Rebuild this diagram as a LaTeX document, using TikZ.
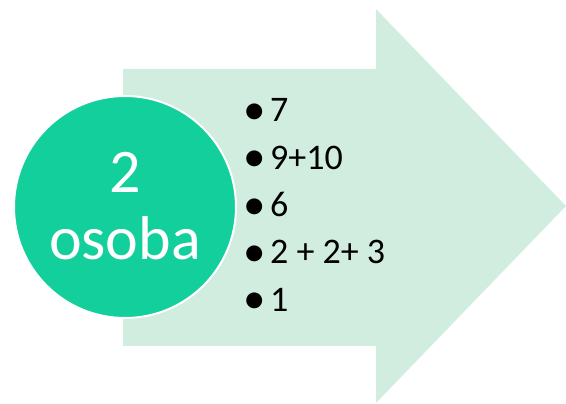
\documentclass[tikz,border=0pt]{standalone}
\usepackage{fontspec}
\setmainfont{Carlito}
\definecolor{arrowgreen}{RGB}{209,237,224}
\definecolor{circlegreen}{RGB}{19,207,155}
\tikzset{
	item/.style={anchor=base west, inner sep=0pt, font=\fontsize{36}{40}\selectfont},
}
\begin{document}
\begin{tikzpicture}[x=1pt,y=1pt]
			\useasboundingbox (0,0) rectangle (566,404);
			\fill[arrowgreen] (123,335)--(376,335)--(376,395)--(566,198)--(376,1)--(376,58)--(123,58)--cycle;
			\filldraw[fill=circlegreen, draw=white, line width=2pt] (125,197) circle(111);
			\node[text=white, align=center, inner sep=0pt, font=\fontsize{62}{67}\selectfont] (who) at (125,198) {2\\osoba};
			\foreach \t [count=\i] in {7, 9+10, 6, {2 + 2+ 3}, 1}
				\node[item] (item\i) at (246,282-47.3*\i+47.3) {\makebox[24pt][l]{\hspace{-3pt}\raisebox{-2.5pt}{\scalebox{1.25}{•}}}\t};
		\end{tikzpicture}
\end{document}
